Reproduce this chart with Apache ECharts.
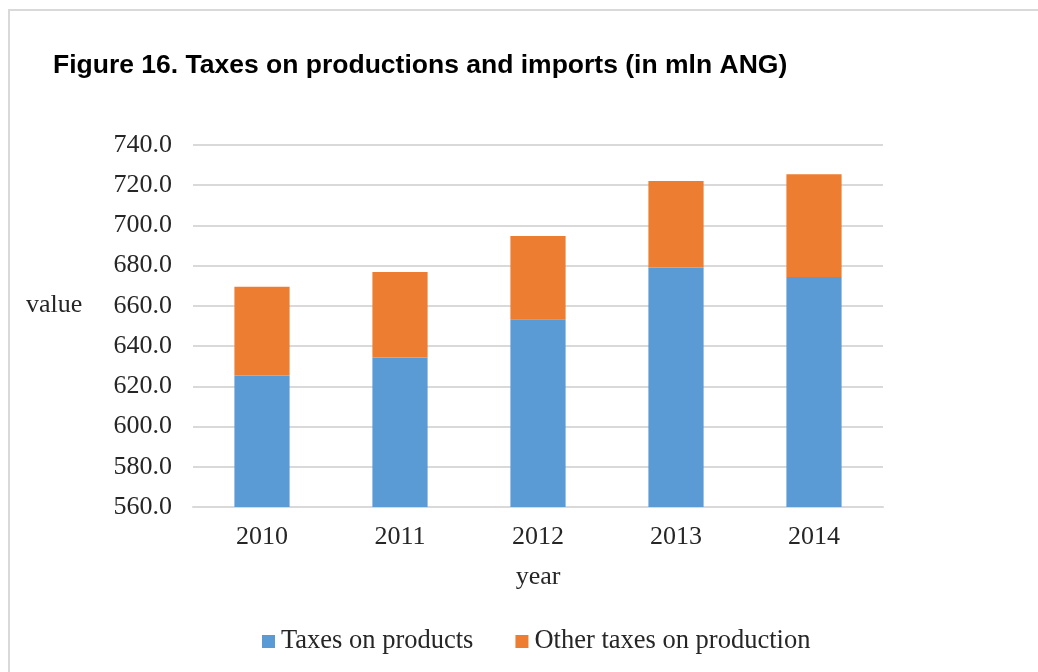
<!DOCTYPE html>
<html>
<head>
<meta charset="utf-8">
<script src="https://cdn.jsdelivr.net/npm/echarts@6/dist/echarts.min.js"></script>
<style>
  html, body { margin: 0; padding: 0; background: #fff; }
  #chart { width: 1038px; height: 672px; }
</style>
</head>
<body>
<div id="chart"></div>
<script>
// Taxes on production and imports, mln ANG
const years = ['2010', '2011', '2012', '2013', '2014'];
const taxesOnProducts = [625.4, 634.3, 653.4, 679.1, 674.4];
const otherTaxesOnProduction = [44.1, 42.6, 41.4, 43.0, 51.0];
const yMin = 560, yMax = 740, yStep = 20;

const serif = '"Liberation Serif", "DejaVu Serif", serif';
const sans = '"Liberation Sans", Arial, sans-serif';

const chart = echarts.init(document.getElementById('chart'), null, { renderer: 'canvas' });

chart.setOption({
  backgroundColor: '#ffffff',
  animation: false,
  title: {
    text: 'Figure 16. Taxes on productions and imports (in mln ANG)',
    left: 48,
    top: 47,
    textStyle: { fontFamily: sans, fontSize: 26.5, fontWeight: 'bold', color: '#000' }
  },
  graphic: [
    {
      type: 'rect',
      shape: { x: 9, y: 10, width: 1100, height: 700 },
      style: { fill: 'none', stroke: '#d9d9d9', lineWidth: 2 },
      silent: true,
      z: -1
    },
    {
      type: 'text',
      left: 26,
      top: 292,
      style: { text: 'value', font: '26px ' + serif, fill: '#262626' }
    }
  ],
  legend: {
    data: ['Taxes on products', 'Other taxes on production'],
    left: 257,
    top: 623,
    icon: 'rect',
    itemWidth: 13,
    itemHeight: 13,
    itemGap: 42,
    textStyle: { fontFamily: serif, fontSize: 26.5, color: '#262626', padding: [0, 0, 0, 1] }
  },
  grid: { left: 193, right: 155, top: 145, bottom: 165, containLabel: false },
  xAxis: {
    type: 'category',
    data: years,
    name: 'year',
    nameLocation: 'middle',
    nameGap: 57,
    nameTextStyle: { fontFamily: serif, fontSize: 26, color: '#262626' },
    axisLine: { lineStyle: { color: '#d9d9d9', width: 2 } },
    axisTick: { show: false },
    axisLabel: { fontFamily: serif, fontSize: 26, color: '#262626', margin: 17 }
  },
  yAxis: {
    type: 'value',
    min: yMin,
    max: yMax,
    interval: yStep,
    axisLine: { show: false },
    axisTick: { show: false },
    axisLabel: {
      fontFamily: serif, fontSize: 26, color: '#262626', margin: 21,
      formatter: v => v.toFixed(1)
    },
    splitLine: { lineStyle: { color: '#d9d9d9', width: 2 } }
  },
  series: [
    {
      name: 'Taxes on products',
      type: 'bar',
      stack: 'total',
      barWidth: '40%',
      data: taxesOnProducts,
      itemStyle: { color: '#5b9bd5' }
    },
    {
      name: 'Other taxes on production',
      type: 'bar',
      stack: 'total',
      barWidth: '40%',
      data: otherTaxesOnProduction,
      itemStyle: { color: '#ed7d31' }
    }
  ]
});
</script>
</body>
</html>
